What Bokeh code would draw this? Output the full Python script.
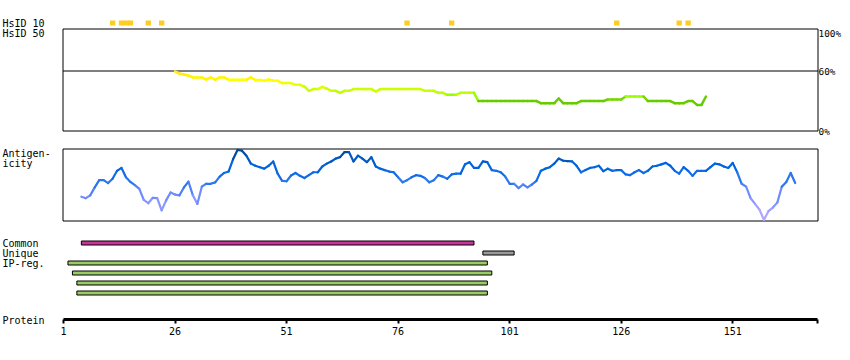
from bokeh.plotting import figure
from bokeh.models import Range1d, LinearAxis, FixedTicker, ColumnDataSource, LinearColorMapper
from bokeh.core.properties import value
from bokeh.transform import transform
from bokeh.embed import file_html
from bokeh.resources import INLINE

# ---------------- data ----------------
protein_length = 170
tick_labels = [1, 26, 51, 76, 101, 126, 151]

hsid10_positions = [12, 14, 15, 16, 20, 23, 78, 88, 125, 139, 141]
hsid50_positions = []

identity_start = 26
identity_values = [
    59.6, 57.5, 56.5, 55.5, 53.6, 53.6, 53.6, 51.5, 53.6, 51.3,
    53.6, 53.6, 51.3, 51.3, 51.3, 51.3, 51.3, 53.6, 51.0, 51.0,
    50.3, 51.5, 50.3, 50.3, 47.9, 47.9, 47.9, 46.2, 46.2, 44.5,
    40.2, 41.9, 41.9, 44.2, 42.5, 40.2, 40.2, 38.2, 40.2, 40.2,
    41.9, 41.9, 41.9, 41.9, 41.9, 39.5, 41.9, 41.9, 41.9, 41.9,
    41.9, 41.9, 41.9, 41.9, 41.9, 41.9, 40.2, 40.2, 40.2, 38.2,
    38.2, 36.2, 36.2, 36.2, 38.2, 38.2, 38.2, 38.2, 29.9, 29.9,
    29.9, 29.9, 29.9, 29.9, 29.9, 29.9, 29.9, 29.9, 29.9, 29.9,
    29.9, 29.9, 27.8, 27.8, 27.8, 27.8, 32.5, 27.8, 27.8, 27.8,
    27.8, 29.9, 29.9, 29.9, 29.9, 29.9, 29.9, 31.5, 31.5, 31.5,
    31.5, 34.5, 34.5, 34.5, 34.5, 34.5, 29.9, 29.9, 29.9, 29.9,
    29.9, 29.9, 27.8, 27.8, 27.8, 29.9, 29.9, 26.1, 26.1, 34.5,
]

antigenicity_start = 5
antigenicity_values = [
    3.3, 3.1, 3.5, 4.6, 5.6, 5.6, 5.2, 5.8, 6.9, 7.3,
    6.0, 5.35, 4.9, 4.4, 2.85, 2.4, 3.15, 3.1, 1.4, 2.8,
    3.9, 3.6, 3.5, 4.6, 5.4, 3.5, 2.3, 4.7, 5.1, 5.1,
    5.3, 6.1, 6.6, 6.8, 8.5, 9.8, 9.7, 9.0, 7.9, 7.6,
    7.4, 7.2, 7.6, 8.2, 6.5, 5.5, 5.45, 6.25, 6.6, 6.2,
    5.9, 6.3, 6.7, 6.7, 7.5, 7.9, 8.2, 8.6, 8.8, 9.5,
    9.5, 8.2, 9.0, 8.6, 8.1, 8.8, 7.5, 7.2, 7.0, 6.8,
    6.7, 6.0, 5.3, 5.6, 6.0, 6.3, 6.2, 5.9, 5.3, 5.6,
    6.3, 6.1, 5.8, 6.4, 6.5, 6.5, 7.8, 8.1, 7.3, 7.3,
    8.2, 8.1, 7.0, 6.9, 6.7, 6.1, 5.1, 5.1, 4.5, 5.0,
    4.6, 5.0, 5.5, 6.9, 7.2, 7.4, 7.9, 8.6, 8.3, 8.25,
    8.2, 7.6, 6.7, 7.0, 7.3, 7.4, 7.6, 6.85, 7.2, 6.9,
    7.0, 7.0, 6.4, 6.3, 6.7, 7.0, 6.6, 6.9, 7.5, 7.6,
    7.8, 8.0, 7.6, 6.9, 6.5, 7.4, 6.9, 6.2, 6.9, 6.9,
    6.9, 7.4, 7.9, 7.8, 7.5, 7.3, 8.0, 6.7, 5.1, 4.7,
    3.1, 2.3, 1.5, 0.1, 1.3, 1.8, 2.5, 4.7, 5.35, 6.6,
    5.2,
]

common_starts = [5]
common_ends = [93]
unique_starts = [95]
unique_ends = [102]
ipreg_starts = [2, 3, 4, 4]
ipreg_ends = [96, 97, 96, 96]

row_labels = ["HsID 10", "HsID 50", "Antigen-", "icity", "Common", "Unique", "IP-reg.", "Protein"]
pct_labels = ["100%", "60%", "0%"]

# ---------------- layout / style ----------------
W, H = 842, 344
k = 754.0 / (protein_length - 1)          # px per residue
x_start = 1 - 63.0 / k
x_end = 1 + (W - 63.0) / k
hp = 0.5 / k                               # half pixel in residue units
FONT = "DejaVu Sans Mono"

p = figure(width=W, height=H, output_backend="svg", toolbar_location=None,
           x_range=Range1d(x_start, x_end), y_range=Range1d(H, 0),
           x_axis_location=None, y_axis_location=None,
           min_border_left=0, min_border_right=0, min_border_top=0, min_border_bottom=0)
p.outline_line_color = None
p.grid.grid_line_color = None
p.background_fill_color = "white"
p.border_fill_color = "white"

p.extra_y_ranges = {
    "ident": Range1d(130.5 - H, 130.5),
    "antig": Range1d((220 - H) / 7.2, 220 / 7.2),
}

# HsID markers
p.quad(left=[r - 0.6 for r in hsid10_positions], right=[r + 0.6 for r in hsid10_positions],
       top=20, bottom=25, fill_color="#ffcc22", line_color=None)

# panel boxes
p.quad(left=1 - hp, right=protein_length + hp, top=28.5, bottom=130.5,
       fill_color=None, line_color="black", line_width=1)
p.quad(left=1 - hp, right=protein_length + hp, top=148.5, bottom=220.5,
       fill_color=None, line_color="black", line_width=1)

# 60% line
p.segment(x0=[1 - hp], x1=[protein_length + hp], y0=[60], y1=[60],
          y_range_name="ident", line_color="black", line_width=1)

# identity line
ires = list(range(identity_start, identity_start + len(identity_values)))
isrc = ColumnDataSource(dict(
    x0=ires[:-1], x1=ires[1:], y0=identity_values[:-1], y1=identity_values[1:],
    v=[(a + b) / 2 for a, b in zip(identity_values[:-1], identity_values[1:])]))
imap = LinearColorMapper(low=25, high=61, palette=[
    "#66cc00", "#66cc00", "#77d600", "#99ff00", "#bbff00", "#ccff00",
    "#ddff00", "#eeff00", "#ffff00", "#fff600", "#ffee10", "#ffe820"])
p.segment(x0="x0", x1="x1", y0="y0", y1="y1", source=isrc, y_range_name="ident",
          line_color=transform("v", imap), line_width=2.5, line_cap="round")

# antigenicity line
ares = list(range(antigenicity_start, antigenicity_start + len(antigenicity_values)))
asrc = ColumnDataSource(dict(
    x0=ares[:-1], x1=ares[1:], y0=antigenicity_values[:-1], y1=antigenicity_values[1:],
    v=[(a + b) / 2 for a, b in zip(antigenicity_values[:-1], antigenicity_values[1:])]))
amap = LinearColorMapper(low=0, high=10, palette=[
    "#b0a6ff", "#a09eff", "#8c96ff", "#6f8cff", "#4f82f8",
    "#2a76ee", "#106ce6", "#0064dd", "#0058c4", "#004aa0"])
p.segment(x0="x0", x1="x1", y0="y0", y1="y1", source=asrc, y_range_name="antig",
          line_color=transform("v", amap), line_width=2.2, line_cap="round")

# region bars
p.quad(left=common_starts, right=common_ends, top=240.5, bottom=244.5,
       fill_color="#cc3399", line_color="black", line_width=1)
p.quad(left=unique_starts, right=unique_ends, top=250.5, bottom=254.5,
       fill_color="#999999", line_color="black", line_width=1)
p.quad(left=ipreg_starts, right=ipreg_ends,
       top=[260.5, 270.5, 280.5, 290.5], bottom=[264.5, 274.5, 284.5, 294.5],
       fill_color="#99cc66", line_color="black", line_width=1)

# left row labels
p.text(x=[x_start] * len(row_labels), y=[22.5, 33, 152.5, 163, 243, 253, 263, 320],
       text=row_labels, x_offset=2, text_font=value(FONT), text_font_size=value("10px"),
       text_baseline="middle", text_align="left", text_color="black")

# right percentage labels
p.text(x=[protein_length] * 3, y=[100, 60, 0], text=pct_labels,
       x_offset=1, y_offset=[2, 0, 0], y_range_name="ident",
       text_font=value(FONT), text_font_size=value("9.4px"),
       text_baseline="middle", text_align="left", text_color="black")

# protein axis, drawn at a fixed location inside the frame
ax = LinearAxis(ticker=FixedTicker(ticks=tick_labels + [protein_length]),
                bounds=(1, protein_length), fixed_location=319)
ax.major_label_overrides = {protein_length: ""}
ax.axis_line_width = 3
ax.axis_line_color = "black"
ax.major_tick_out = 4
ax.major_tick_in = 0
ax.major_tick_line_width = 2
ax.minor_tick_out = 0
ax.minor_tick_in = 0
ax.major_label_standoff = 3
ax.major_label_text_font = FONT
ax.major_label_text_font_size = "10px"
ax.major_label_text_color = "black"
p.add_layout(ax, "below")

open("out.html", "w").write(file_html(p, INLINE))
